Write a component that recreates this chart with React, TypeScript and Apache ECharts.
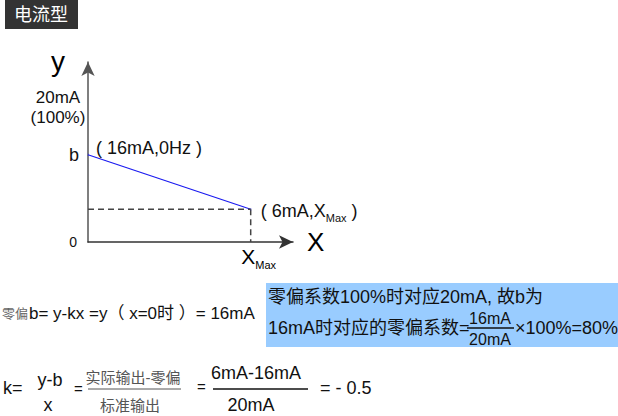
import React, { useEffect, useRef } from "react";
import * as echarts from "echarts";

// ---- data ----
const lineX = [0, 10];          // 0Hz .. XMax
const lineY = [16, 6];          // 16mA .. 6mA
const pointLabels = ["( 16mA,0Hz )", "( 6mA,X{s|Max} )"];
const yTickValues = [0, 16];
const yTickLabels = ["{z|0}", "{b|b}"];
const xTickValues = [10];
const xTickLabels = ["{pad|}{b|X}{s|Max}"];
const X_MAX = 12.6;
const Y_MAX = 33;

const FONT = "'Liberation Sans', Arial, 'Noto Sans CJK SC', sans-serif";

export default function App() {
  const ref = useRef<HTMLDivElement>(null);
  useEffect(() => {
    if (!ref.current) return;
    const chart = echarts.init(ref.current, null, { renderer: "svg" });
    const mainLine = lineX.map((x, i) => ({
      value: [x, lineY[i]],
      label: {
        show: true,
        position: "right",
        distance: i === 0 ? 7 : 9,
        offset: i === 0 ? [0, -7] : [0, 2],
        formatter: pointLabels[i],
        fontSize: 18,
        fontFamily: FONT,
        color: "#111",
        rich: { s: { fontSize: 11, fontFamily: FONT, color: "#111", verticalAlign: "bottom", padding: [0, 0, -3, 0] } },
      },
    }));
    const dashH = [
      [lineX[0], lineY[1]],
      [lineX[1], lineY[1]],
    ];
    const dashV = [
      [lineX[1], lineY[1]],
      [lineX[1], 0],
    ];
    const text = (x: number, y: number, t: string, size: number, opts: any = {}) => ({
      type: "text",
      x,
      y,
      style: {
        text: t,
        fontSize: size,
        fontFamily: FONT,
        fill: opts.fill || "#111",
        align: opts.align || "left",
        verticalAlign: "middle",
      },
    });
    const hline = (x1: number, x2: number, y: number, color = "#111", w = 1.2) => ({
      type: "line",
      shape: { x1, y1: y, x2, y2: y },
      style: { stroke: color, lineWidth: w },
    });
    chart.setOption({
      animation: false,
      grid: { left: 88, top: 62, width: 205, height: 180, containLabel: false },
      xAxis: {
        type: "value",
        min: 0,
        max: X_MAX,
        name: "X",
        nameLocation: "end",
        nameGap: 14,
        nameTextStyle: { fontSize: 26, color: "#000", fontFamily: FONT },
        axisLine: {
          show: true,
          onZero: false,
          symbol: ["none", "arrow"],
          symbolSize: [10, 14],
          lineStyle: { color: "#333", width: 1.5 },
        },
        axisTick: { show: false },
        splitLine: { show: false },
        axisLabel: {
          customValues: xTickValues,
          margin: 4,
          formatter: (v: number) => xTickLabels[xTickValues.indexOf(v)] ?? "",
          rich: {
            pad: { width: 16 },
            b: { fontSize: 21, color: "#000", fontFamily: FONT },
            s: { fontSize: 11, color: "#000", fontFamily: FONT, verticalAlign: "bottom", padding: [0, 0, -4, 0] },
          },
        },
      },
      yAxis: {
        type: "value",
        min: 0,
        max: Y_MAX,
        axisLine: {
          show: true,
          onZero: false,
          symbol: ["none", "arrow"],
          symbolSize: [10, 14],
          lineStyle: { color: "#555", width: 1.5 },
        },
        axisTick: { show: false },
        splitLine: { show: false },
        axisLabel: {
          customValues: yTickValues,
          margin: 9,
          formatter: (v: number) => yTickLabels[yTickValues.indexOf(v)] ?? "",
          rich: {
            z: { fontSize: 14, color: "#111", fontFamily: FONT, padding: [0, 2, 0, 0] },
            b: { fontSize: 18, color: "#111", fontFamily: FONT },
          },
          color: "#111",
          fontFamily: FONT,
          fontSize: 16,
        },
      },
      series: [
        {
          type: "line",
          data: mainLine,
          symbolSize: 0.1,
          showSymbol: true,
          lineStyle: { color: "#1a1af0", width: 1.2 },
          itemStyle: { color: "#1a1af0" },
          z: 3,
        },
        {
          type: "line",
          data: dashH,
          showSymbol: false,
          lineStyle: { color: "#444", width: 1.5, type: [6, 4] },
        },
        {
          type: "line",
          data: dashV,
          showSymbol: false,
          lineStyle: { color: "#444", width: 1.5, type: [6, 4] },
        },
      ],
      graphic: [
        { type: "rect", shape: { x: 5, y: 0, width: 73, height: 29 }, style: { fill: "#333" } },
        text(41, 15, "电流型", 18, { fill: "#fff", align: "center" }),
        text(58, 61, "y", 28, { fill: "#000", align: "center" }),
        text(58, 97, "20mA", 17, { align: "center" }),
        text(58, 117, "(100%)", 17, { align: "center" }),
        // row: zero offset
        text(2, 313, "零偏", 13, { fill: "#666" }),
        text(29, 313, "b= y-kx =y（ x=0时 ）= 16mA", 17),
        { type: "rect", shape: { x: 266, y: 283, width: 352, height: 64 }, style: { fill: "#99ccff" } },
        text(268, 297, "零偏系数100%时对应20mA, 故b为", 18),
        text(268, 328, "16mA时对应的零偏系数=", 18),
        text(490, 318.5, "16mA", 16, { align: "center" }),
        hline(467, 514, 328, "#111", 1.5),
        text(490, 339, "20mA", 16, { align: "center" }),
        text(515, 328, "×100%=80%", 18),
        // k formula
        text(3, 388, "k=", 18),
        text(50, 380, "y-b", 18, { align: "center" }),
        text(48, 405, "x", 18, { align: "center" }),
        text(74, 388, "=", 15),
        text(133, 377, "实际输出-零偏", 15, { fill: "#555", align: "center" }),
        hline(88, 181, 389, "#555", 1),
        text(130, 405, "标准输出", 15, { fill: "#555", align: "center" }),
        text(197, 386, "=", 15),
        text(256, 373, "6mA-16mA", 18, { align: "center" }),
        hline(213, 308, 389, "#111", 1.5),
        text(251, 405, "20mA", 18, { align: "center" }),
        text(320, 388, "= - 0.5", 18),
      ],
    });
    return () => chart.dispose();
  }, []);
  return (
    <div
      ref={ref}
      style={{ position: "fixed", left: 0, top: 0, width: 618, height: 416, background: "#fff" }}
    />
  );
}
